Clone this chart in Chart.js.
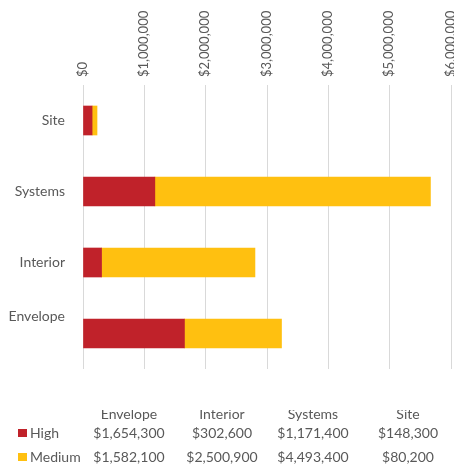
<!DOCTYPE html>
<html><head><meta charset="utf-8">
<script src="https://cdn.jsdelivr.net/npm/chart.js@4/dist/chart.umd.min.js"></script>
<style>
html,body{margin:0;padding:0;background:#fff;overflow:hidden}
#wrap{position:relative;width:454px;height:466px}
#c{position:absolute;left:0;top:0}
#tbl{position:absolute;left:0;top:410px;width:454px;height:56px;overflow:hidden;font-family:Lato,"Open Sans",sans-serif;font-size:14px;color:#595959}
.cell{position:absolute;white-space:nowrap;line-height:16px;transform:translateX(-50%)}
.lg{position:absolute;white-space:nowrap;line-height:16px}
.sw{position:absolute;width:9px;height:8px}
</style></head>
<body>
<div id="wrap">
<canvas id="c" width="454" height="466"></canvas>
<div id="tbl"></div>
</div>
<script>
// ---- data ----
const categories = ["Site", "Systems", "Interior", "Envelope"];
const highValues = [148300, 1171400, 302600, 1654300];
const mediumValues = [80200, 4493400, 2500900, 1582100];
const seriesNames = ["High", "Medium"];
const tickValues = [0, 1000000, 2000000, 3000000, 4000000, 5000000, 6000000];
const tableOrder = ["Envelope", "Interior", "Systems", "Site"];

const colors = ["#C0222A", "#FFC010"];
const textColor = "#595959";
const fontFam = "Lato, 'Open Sans', sans-serif";
const money = v => "$" + Number(v).toLocaleString("en-US");

new Chart(document.getElementById("c"), {
  type: "bar",
  data: {
    labels: categories,
    datasets: [
      { label: seriesNames[0], data: highValues, backgroundColor: colors[0], barThickness: 29 },
      { label: seriesNames[1], data: mediumValues, backgroundColor: colors[1], barThickness: 29 }
    ]
  },
  options: {
    indexAxis: "y",
    responsive: false,
    animation: false,
    layout: { padding: { top: 0, left: 0, right: 3, bottom: 97 } },
    plugins: { legend: { display: false }, tooltip: { enabled: false } },
    scales: {
      x: {
        type: "linear",
        position: "top",
        stacked: true,
        min: tickValues[0],
        max: tickValues[tickValues.length - 1],
        afterBuildTicks: s => { s.ticks = tickValues.map(v => ({ value: v })); },
        ticks: {
          callback: v => money(v),
          minRotation: 90, maxRotation: 90,
          padding: 8,
          labelOffset: 15,
          color: textColor,
          font: { family: fontFam, size: 13 }
        },
        grid: { color: "#D9D9D9", lineWidth: 1, drawTicks: false },
        border: { display: false },
        afterFit: s => { s.height = 85; s.paddingRight = 0; s.paddingLeft = 0; }
      },
      y: {
        stacked: true,
        offset: true,
        grid: { display: false, drawTicks: false },
        border: { display: false },
        ticks: {
          padding: 18,
          color: textColor,
          font: { family: fontFam, size: 14, lineHeight: 1.25 },
          callback: (v, i) => i === categories.length - 1 ? [categories[i], "", ""] : categories[i]
        },
        afterFit: s => { s.width = 83; }
      }
    }
  }
});

// ---- data table below ----
const tbl = document.getElementById("tbl");
const top0 = 410;
const colX = [129, 222, 313, 408];
const rowY = [414, 433, 457];
function addCell(text, cx, cy) {
  const d = document.createElement("div");
  d.className = "cell";
  d.textContent = text;
  d.style.left = cx + "px";
  d.style.top = (cy - 8 - top0) + "px";
  tbl.appendChild(d);
}
tableOrder.forEach((name, j) => {
  const idx = categories.indexOf(name);
  addCell(name, colX[j], rowY[0]);
  addCell(money(highValues[idx]), colX[j], rowY[1]);
  addCell(money(mediumValues[idx]), colX[j], rowY[2]);
});
seriesNames.forEach((n, k) => {
  const sw = document.createElement("div");
  sw.className = "sw";
  sw.style.background = colors[k];
  sw.style.left = "18px";
  sw.style.top = (rowY[k + 1] - 4 - top0) + "px";
  tbl.appendChild(sw);
  const t = document.createElement("div");
  t.className = "lg";
  t.textContent = n;
  t.style.left = "30px";
  t.style.top = (rowY[k + 1] - 8 - top0) + "px";
  tbl.appendChild(t);
});
</script>
</body></html>
